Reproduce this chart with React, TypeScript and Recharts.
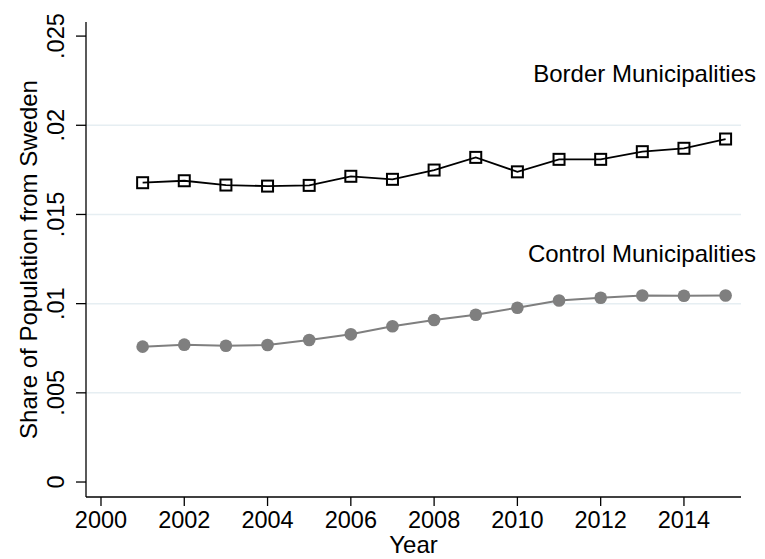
import { LineChart, Line, XAxis, YAxis, CartesianGrid, ReferenceDot } from 'recharts'

const YEARS = [2001, 2002, 2003, 2004, 2005, 2006, 2007, 2008, 2009, 2010, 2011, 2012, 2013, 2014, 2015]
const BORDER = [0.01678, 0.01689, 0.01665, 0.01659, 0.01663, 0.01714, 0.01697, 0.01749, 0.0182, 0.01739, 0.01809, 0.01809, 0.01852, 0.01871, 0.01923]
const CONTROL = [0.00759, 0.0077, 0.00764, 0.00768, 0.00796, 0.00828, 0.00873, 0.00908, 0.00938, 0.00977, 0.01018, 0.01033, 0.01046, 0.01044, 0.01046]
const X_TICKS = [2000, 2002, 2004, 2006, 2008, 2010, 2012, 2014]
const Y_TICKS = [0, 0.005, 0.01, 0.015, 0.02, 0.025]
const GRID_VALUES = [0.005, 0.01, 0.015, 0.02]

const FONT = '"Liberation Sans", Arial, Helvetica, sans-serif'
const data = YEARS.map((year, i) => ({ year, border: BORDER[i], control: CONTROL[i] }))

const fmtY = (v: number) => (v === 0 ? '0' : String(v).replace(/^0/, ''))

function YTick({ x, y, payload }: any) {
  const bx = x - 10
  return (
    <text x={bx} y={y} transform={`rotate(-90, ${bx}, ${y})`} textAnchor="middle" fontSize={23.5} fontFamily={FONT} fill="#000">
      {fmtY(payload.value)}
    </text>
  )
}

function XTick({ x, y, payload }: any) {
  return (
    <text x={x} y={y + 20} textAnchor="middle" fontSize={23.5} fontFamily={FONT} fill="#000">
      {payload.value}
    </text>
  )
}

function SquareDot({ cx, cy }: any) {
  return <rect x={cx - 5.5} y={cy - 5.5} width={11} height={11} fill="none" stroke="#000" strokeWidth={2} />
}

function CircleDot({ cx, cy }: any) {
  return <circle cx={cx} cy={cy} r={6.3} fill="#7f7f7f" stroke="none" />
}

function Note(text: string) {
  return ({ cx, cy }: any) => (
    <text x={cx} y={cy} textAnchor="end" fontSize={24} fontFamily={FONT} fill="#000">
      {text}
    </text>
  )
}

export default function App() {
  return (
    <div style={{ position: 'absolute', left: 0, top: 0, width: 765, height: 559, background: '#fff' }}>
      <LineChart width={765} height={559} data={data} margin={{ top: 22, right: 24, bottom: 0, left: 0 }}>
        <CartesianGrid horizontal vertical={false} horizontalValues={GRID_VALUES} stroke="#e6eef2" strokeWidth={1.5} />
        <XAxis
          dataKey="year"
          type="number"
          domain={[1999.64, 2015.37]}
          allowDataOverflow
          ticks={X_TICKS}
          height={62}
          tickSize={9}
          tickLine={{ stroke: '#000', strokeWidth: 1.3 }}
          axisLine={{ stroke: '#000', strokeWidth: 1.3 }}
          tick={<XTick />}
          label={{
            content: ({ viewBox }: any) => (
              <text x={viewBox.x + viewBox.width / 2} y={553} textAnchor="middle" fontSize={24} fontFamily={FONT} fill="#000">
                Year
              </text>
            ),
          }}
        />
        <YAxis
          type="number"
          domain={[-0.00084, 0.02579]}
          allowDataOverflow
          ticks={Y_TICKS}
          width={86}
          tickSize={10}
          tickLine={{ stroke: '#000', strokeWidth: 1.3 }}
          axisLine={{ stroke: '#000', strokeWidth: 1.3 }}
          tick={<YTick />}
          label={{
            content: ({ viewBox }: any) => {
              const cy = viewBox.y + viewBox.height / 2
              return (
                <text x={37} y={cy} transform={`rotate(-90, 37, ${cy})`} textAnchor="middle" fontSize={24} fontFamily={FONT} fill="#000">
                  Share of Population from Sweden
                </text>
              )
            },
          }}
        />
        <Line type="linear" dataKey="border" stroke="#000" strokeWidth={1.8} dot={<SquareDot />} activeDot={false} isAnimationActive={false} />
        <Line type="linear" dataKey="control" stroke="#7f7f7f" strokeWidth={2} dot={<CircleDot />} activeDot={false} isAnimationActive={false} />
        <ReferenceDot x={2015.73} y={0.02244} r={0} ifOverflow="visible" shape={Note('Border Municipalities')} />
        <ReferenceDot x={2015.73} y={0.01235} r={0} ifOverflow="visible" shape={Note('Control Municipalities')} />
      </LineChart>
    </div>
  )
}
